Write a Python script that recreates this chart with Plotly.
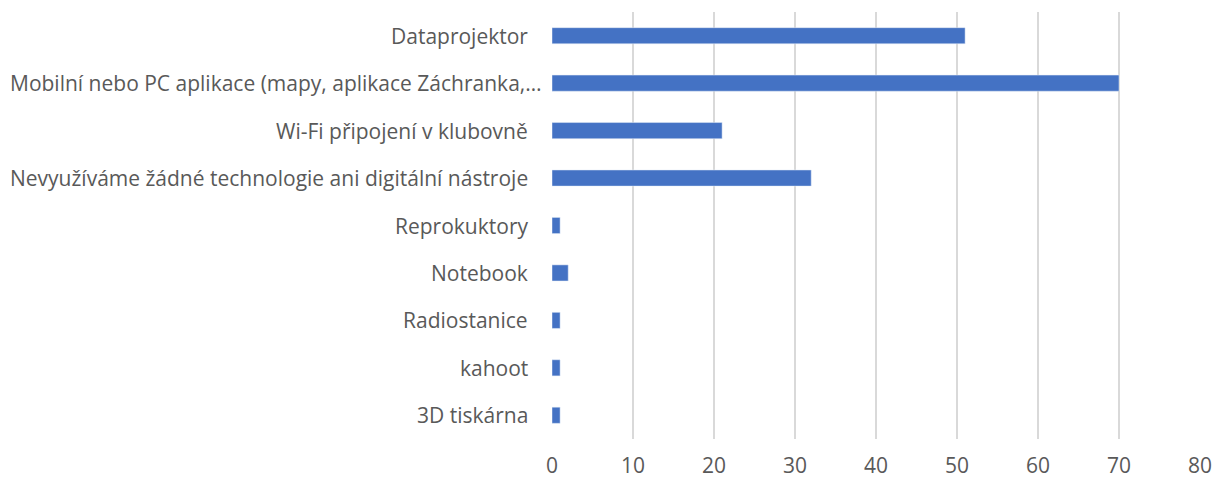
import plotly.graph_objects as go

categories = [
    "Dataprojektor",
    "Mobilní nebo PC aplikace (mapy, aplikace Záchranka,…",
    "Wi-Fi připojení v klubovně",
    "Nevyužíváme žádné technologie ani digitální nástroje",
    "Reprokuktory",
    "Notebook",
    "Radiostanice",
    "kahoot",
    "3D tiskárna",
]
values = [51, 70, 21, 32, 1, 2, 1, 1, 1]
tick_vals = [0, 10, 20, 30, 40, 50, 60, 70, 80]

fig = go.Figure(
    go.Bar(
        x=values,
        y=categories,
        orientation="h",
        marker=dict(color="#4472C4"),
        width=0.34,
    )
)

text_color = "#595959"
font_family = "Open Sans"

# category labels as annotations (the truncated one sits closer to the axis, like Excel)
for cat in categories:
    shift = -8 if cat.endswith("…") else -22
    fig.add_annotation(
        x=0,
        y=cat,
        xref="x",
        yref="y",
        text=cat,
        showarrow=False,
        xanchor="right",
        yanchor="middle",
        xshift=shift,
        font=dict(family=font_family, size=21, color=text_color),
    )

fig.update_layout(
    width=1222,
    height=479,
    margin=dict(l=552, r=22, t=12, b=40),
    plot_bgcolor="white",
    paper_bgcolor="white",
    font=dict(family=font_family, size=21, color=text_color),
    showlegend=False,
)
fig.update_xaxes(
    range=[0, 80],
    tickvals=tick_vals,
    showgrid=True,
    gridcolor="#D9D9D9",
    gridwidth=1.5,
    zeroline=False,
    showline=False,
    ticks="",
    ticklabelstandoff=12,
    automargin=False,
)
fig.update_yaxes(
    categoryorder="array",
    categoryarray=categories[::-1],
    showgrid=False,
    zeroline=False,
    showline=False,
    ticks="",
    showticklabels=False,
    automargin=False,
)

fig.write_html(
    "out.html",
    config={"displayModeBar": False},
    post_script="document.body.style.margin='0';document.body.style.overflow='hidden';",
)
